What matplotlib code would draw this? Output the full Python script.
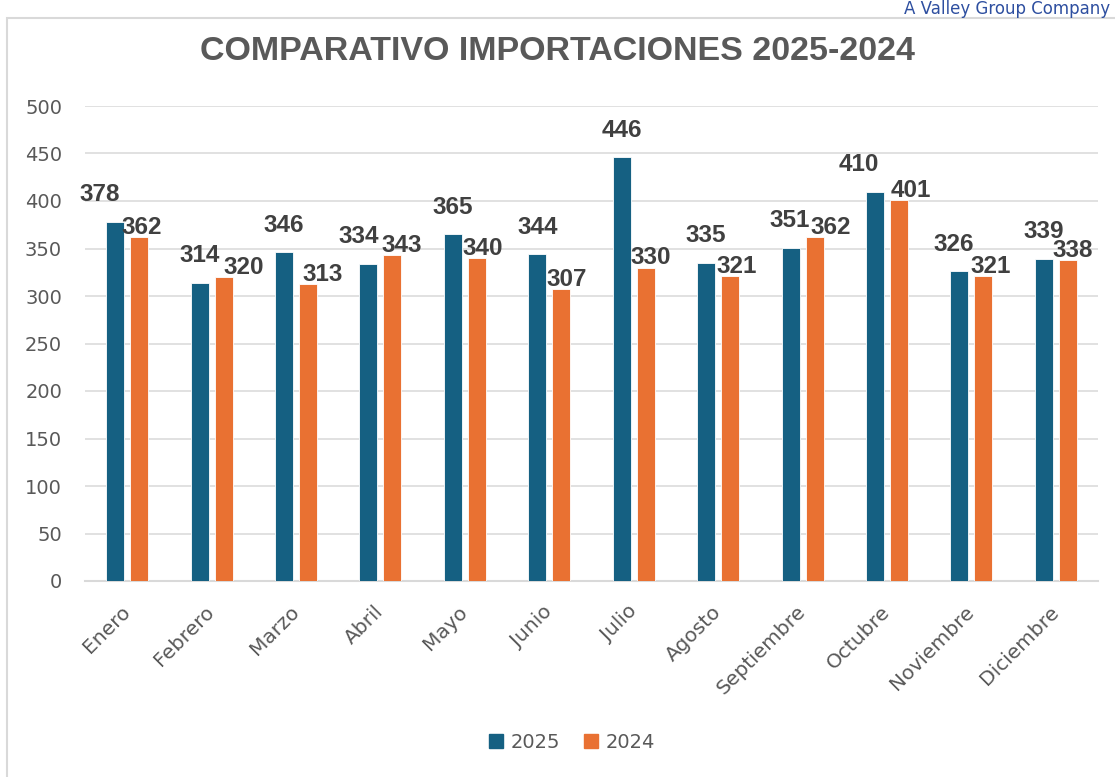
import numpy as np
import matplotlib
matplotlib.use("Agg")
import matplotlib.pyplot as plt
from matplotlib.patches import Patch, Rectangle

# data
meses = ['Enero', 'Febrero', 'Marzo', 'Abril', 'Mayo', 'Junio', 'Julio',
         'Agosto', 'Septiembre', 'Octubre', 'Noviembre', 'Diciembre']
v2025 = [378, 314, 346, 334, 365, 344, 446, 335, 351, 410, 326, 339]
v2024 = [362, 320, 313, 343, 340, 307, 330, 321, 362, 401, 321, 338]
years = ['2025', '2024']

# label nudges (pixels) as placed in the original
dx_2025 = [-16, 0, 0, -10, 0, 0, 0, 0, -1, -16, -6, 0]
dx_2024 = [3, 20, 15, 9, 6, 5, 5, 7, 16, 12, 7, 5]

blue = '#156082'
orange = '#E97132'
grey = '#595959'
grid_c = '#D9D9D9'

fig = plt.figure(figsize=(11.15, 7.77), dpi=100)
ax = fig.add_axes([85 / 1115, 1 - 581 / 777, (1098 - 85) / 1115, 475 / 777])

x = np.arange(len(meses))
w = 0.213
off = 0.142
ax.bar(x - off, v2025, w, color=blue, edgecolor='white', linewidth=0.6, zorder=3)
ax.bar(x + off, v2024, w, color=orange, edgecolor='white', linewidth=0.6, zorder=3)

px = 0.72  # points per pixel at 100 dpi
for i, v in enumerate(v2025):
    ax.annotate(str(v), (x[i] - off, v), xytext=(dx_2025[i] * px, 27 * px),
                textcoords='offset points', ha='center', va='center',
                fontsize=17.5, fontweight='bold', family='Liberation Sans',
                color='#404040', zorder=5)
for i, v in enumerate(v2024):
    ax.annotate(str(v), (x[i] + off, v), xytext=(dx_2024[i] * px, 9.5 * px),
                textcoords='offset points', ha='center', va='center',
                fontsize=17.5, fontweight='bold', family='Liberation Sans',
                color='#404040', zorder=5)

ax.set_xlim(-0.5, len(meses) - 0.5)
ax.set_ylim(0, 500)
ax.set_yticks(range(0, 501, 50))
ax.yaxis.grid(True, color=grid_c, linewidth=1.1, zorder=0)
ax.set_axisbelow(True)
for s in ['top', 'right', 'left']:
    ax.spines[s].set_visible(False)
ax.spines['bottom'].set_color(grid_c)
ax.spines['bottom'].set_linewidth(1.5)
ax.tick_params(axis='both', length=0, colors=grey, labelsize=14)
ax.tick_params(axis='y', pad=16.5)
ax.set_xticks(x)
ax.set_xticklabels(meses, rotation=45, ha='right', va='center',
                   rotation_mode='anchor', fontsize=14.5, color=grey)
ax.tick_params(axis='x', pad=20)

fig.text(0.5, 1 - 51 / 777, 'COMPARATIVO IMPORTACIONES 2025-2024',
         ha='center', va='center', fontsize=24.5, fontweight='bold',
         family='Liberation Sans', color=grey)

handles = [Patch(color=blue), Patch(color=orange)]
fig.legend(handles, years, loc='center', bbox_to_anchor=(572 / 1115, 1 - 742 / 777),
           ncol=2, frameon=False, fontsize=14, handlelength=0.75, handleheight=0.75,
           handletextpad=0.4, columnspacing=1.2, labelcolor=grey)

# chart border and header text
fig.patches.append(Rectangle((7 / 1115, -0.1), 1.2, 1 - 18 / 777 + 0.1,
                             transform=fig.transFigure, fill=False,
                             edgecolor='#D9D9D9', linewidth=1.5))
fig.text(1110 / 1115, 1 - 14 / 777, 'A Valley Group Company', ha='right',
         va='baseline', fontsize=12, color='#2E4FA0')

fig.savefig('out.png', dpi=100)
